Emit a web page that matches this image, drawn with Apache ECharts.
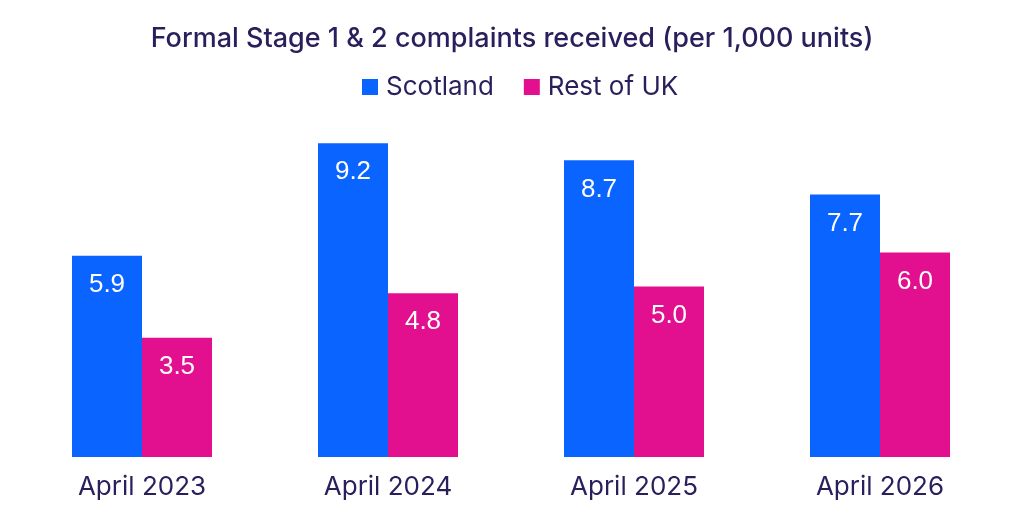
<!DOCTYPE html>
<html><head><meta charset="utf-8">
<script src="https://cdn.jsdelivr.net/npm/echarts@6/dist/echarts.min.js"></script>
<style>html,body{margin:0;padding:0;background:#fff}#c{width:1024px;height:512px}</style>
</head><body><div id="c"></div>
<script>
var categories = ['April 2023', 'April 2024', 'April 2025', 'April 2026'];
var scotland = [5.9, 9.2, 8.7, 7.7];
var restOfUK = [3.5, 4.8, 5.0, 6.0];
var titleText = 'Formal Stage 1 & 2 complaints received (per 1,000 units)';

var navy = '#2a1f5c';
var chart = echarts.init(document.getElementById('c'));
var label = {
  show: true, position: 'insideTop', distance: 16, color: '#fff',
  fontSize: 26, fontFamily: 'Liberation Sans, Arial, sans-serif',
  formatter: function (p) { return p.value.toFixed(1); }
};
chart.setOption({
  animation: false,
  title: {
    text: titleText, left: 'center', top: 20,
    textStyle: { color: navy, fontSize: 27, fontWeight: 500, fontFamily: 'Inter, sans-serif' }
  },
  legend: {
    top: 69, left: 357, itemWidth: 16, itemHeight: 16, itemGap: 30,
    icon: 'rect',
    textStyle: { color: navy, fontSize: 26, fontFamily: 'Inter, sans-serif', padding: [0, 0, 0, 3] },
    data: ['Scotland', 'Rest of UK']
  },
  grid: { left: 19, right: 21, top: 116, bottom: 55, containLabel: false },
  xAxis: {
    type: 'category', data: categories,
    axisLine: { show: false }, axisTick: { show: false },
    axisLabel: { color: navy, fontSize: 26, fontFamily: 'Inter, sans-serif', margin: 17 }
  },
  yAxis: { type: 'value', min: 0, max: 10, show: false, splitLine: { show: false } },
  series: [
    { name: 'Scotland', type: 'bar', data: scotland, barWidth: 70, barGap: '0%',
      itemStyle: { color: '#0a64ff' }, label: label },
    { name: 'Rest of UK', type: 'bar', data: restOfUK, barWidth: 70,
      itemStyle: { color: '#e2108e' }, label: label }
  ]
});
</script></body></html>
